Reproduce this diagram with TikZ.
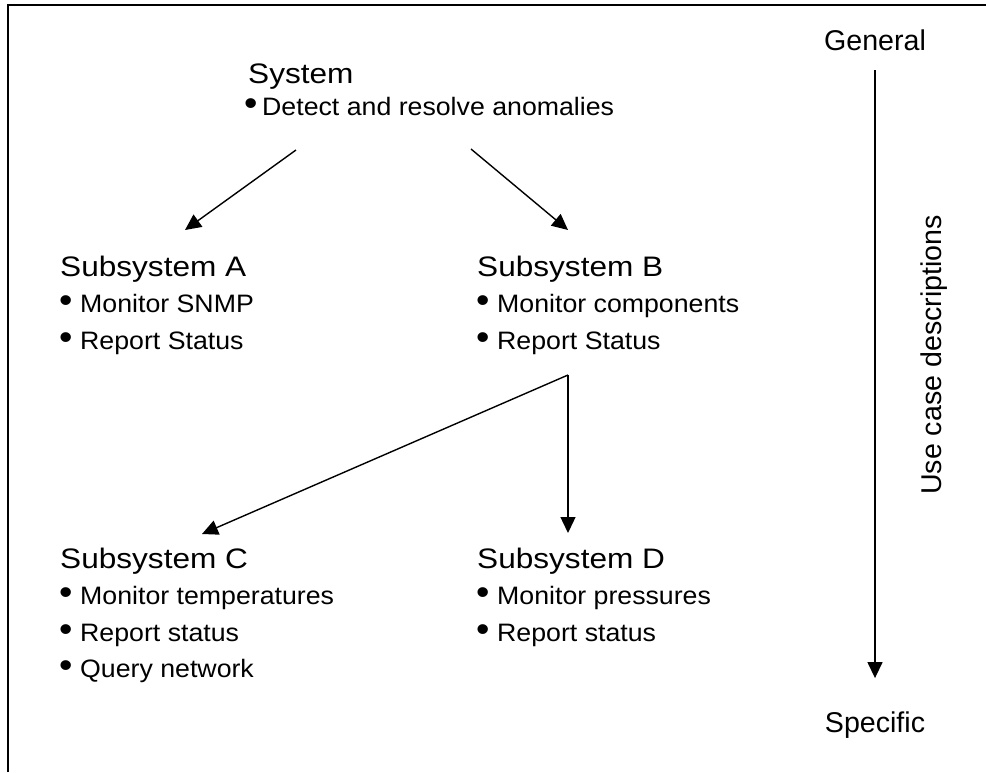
\documentclass[tikz,border=0pt]{standalone}
\usepackage{fontspec}
\setmainfont{Liberation Sans}
\newfontfamily\headfont{Liberation Sans}[FakeStretch=1.12]
\newfontfamily\itemfont{Liberation Sans}[FakeStretch=1.06]
\usetikzlibrary{arrows.meta,positioning}
\newcommand{\heading}[1]{\hbox{\headfont\fontsize{28.2}{36.5}\selectfont #1}}
\newcommand{\dotmark}{{\fontsize{36}{36}\selectfont •}}
\newcommand{\itm}[2][20pt]{\hbox{\makebox[#1][l]{\kern-1pt\dotmark}#2}}
\newcommand{\stack}[2][36.5pt]{\vtop{\baselineskip=#1\relax #2}}
\tikzset{block/.style={inner sep=0pt,anchor=base west,font=\itemfont\fontsize{25.2}{36.5}\selectfont}}
\tikzset{sidetext/.style={inner sep=0pt,anchor=base,font=\fontsize{28.6}{30}\selectfont}}
\tikzset{toArrow/.style={-{Triangle[length=16pt,width=15pt]},line width=1.4pt}}
\tikzset{frame/.style={line width=1.6pt}}

\begin{document}
\begin{tikzpicture}[x=1pt,y=-1pt]
\useasboundingbox (0,0) rectangle (986,772);
\draw[frame] (8,772) -- (8,5) -- (986,5);
% use case levels
\node (sys) [block] at (245,83) {\stack[32pt]{\heading{\kern3pt System}\itm[17pt]{Detect and resolve anomalies}}};
\node (subA) [block] at (60,276) {\stack{\heading{Subsystem A}\itm{Monitor SNMP}\itm{Report Status}}};
\node (subB) [block, right=417pt of subA.base west, anchor=base west] {\stack{\heading{Subsystem B}\itm{Monitor components}\itm{Report Status}}};
\node (subC) [block] at (60,568) {\stack{\heading{Subsystem C}\itm{Monitor temperatures}\itm{Report status}\itm{Query network}}};
\node (subD) [block, right=417pt of subC.base west, anchor=base west] {\stack{\heading{Subsystem D}\itm{Monitor pressures}\itm{Report status}}};
\coordinate (sysA) at (296,150);
\coordinate (topA) at (185,230);
\coordinate (sysB) at (471,149);
\coordinate (topB) at (568,230);
\coordinate (fork) at (568,375);
\coordinate (topC) at (202,534);
\coordinate (topD) at (568,533);
\draw[toArrow] (sysA) -- (topA);
\draw[toArrow] (sysB) -- (topB);
\draw[toArrow] (fork) -- (topC);
\draw[toArrow] (fork) -- (topD);
% side scale
\node (gen) [sidetext] at (875,50) {General};
\node (spec) [sidetext] at (875,732) {Specific};
\draw[toArrow,shorten <=20pt,shorten >=33pt] (gen.south) -- (spec.north);
\node (usecase) [sidetext, rotate=90] at (941,355) {Use case descriptions};
\end{tikzpicture}
\end{document}
